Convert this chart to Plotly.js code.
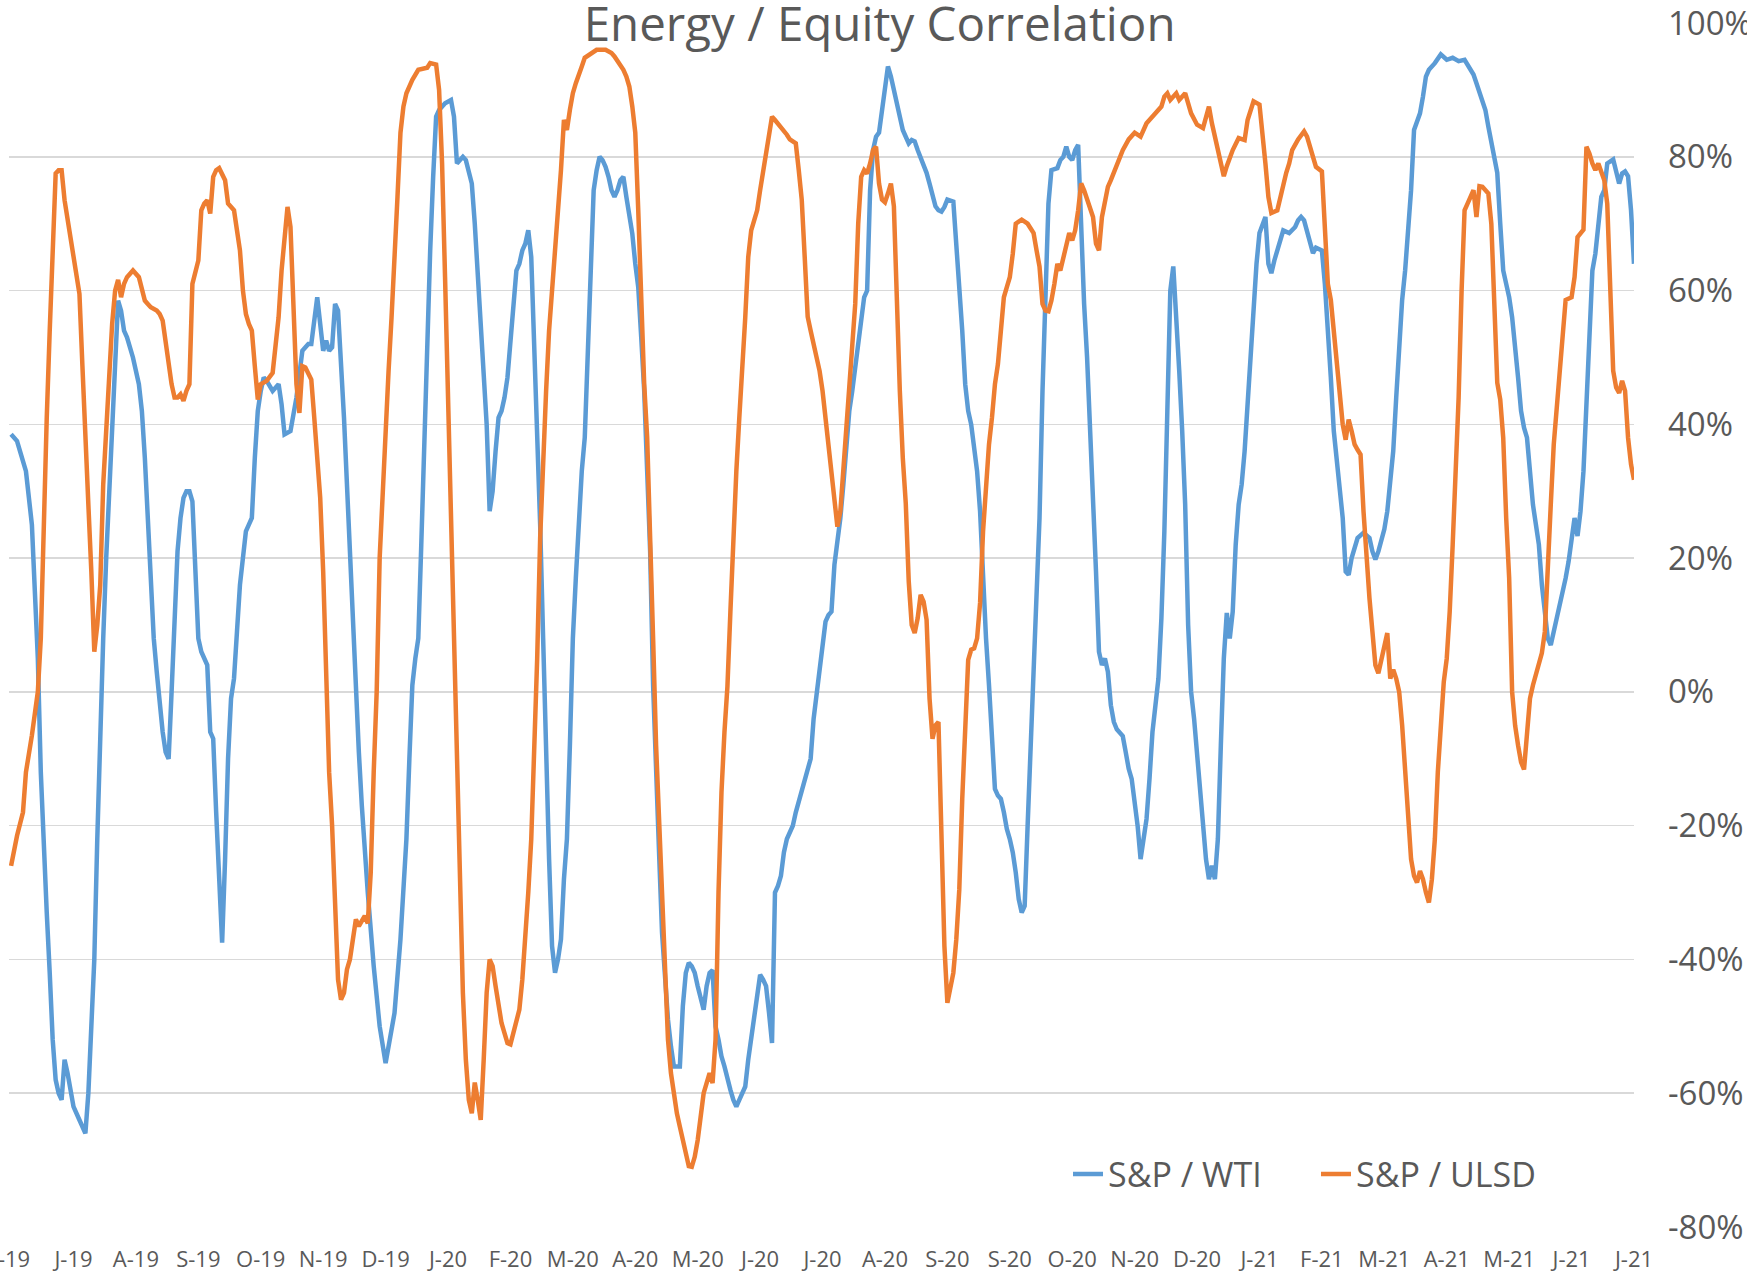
<!DOCTYPE html>
<html><head><meta charset="utf-8">
<script src="https://cdn.plot.ly/plotly-3.0.1.min.js"></script>
<style>html,body{margin:0;padding:0;background:#fff;} #chart{width:1747px;height:1281px;}</style>
</head><body><div id="chart"></div>
<script>
const xTickLabels = ["J-19","J-19","A-19","S-19","O-19","N-19","D-19","J-20","F-20","M-20","A-20","M-20","J-20","J-20","A-20","S-20","S-20","O-20","N-20","D-20","J-21","F-21","M-21","A-21","M-21","J-21","J-21"];
const daysPerLabel = 21;
const yTickValues = [-80,-60,-40,-20,0,20,40,60,80,100];

// [trading-day index, correlation %]
const wtiPoints = [[0,38.5],[2,37.5],[5,33],[7,25],[8,15],[9,5],[10,-12],[11,-24],[12,-33],[13,-42],[14,-52],[15,-58],[16,-60],[17,-61],[18,-55],[19,-57],[20,-60],[21,-62],[23,-64],[25,-66],[26,-60],[27,-50],[28,-40],[29,-22],[30,-5],[31,8],[32,20],[33,30],[34,40],[35,50],[36,58.5],[37,57],[38,54],[39,53],[41,50],[43,46],[44,42],[45,35],[46,26],[47,16],[48,8],[49,3],[50,-2],[51,-6],[52,-9],[53,-10],[54,0],[55,12],[56,21],[57,26],[58,29],[59,30],[60,30],[61,28.5],[62,17],[63,8],[64,6],[65,5],[66,4],[67,-6],[68,-7],[69,-18],[70,-30],[71,-37.5],[72,-25],[73,-10],[74,-1],[75,2],[76,9],[77,16],[78,20],[79,24],[80,25],[81,26],[82,35],[83,42],[84,45],[85,47],[86,46.5],[88,45],[90,46],[91,43],[92,38.5],[94,39],[96,44],[98,51],[100,52],[101,52],[103,59],[104,55],[105,51],[106,52.5],[107,51],[108,51.5],[109,58],[110,57],[111,50],[112,41],[113,31],[114,20],[115,9],[116,0],[117,-9],[118,-17],[119,-24],[120,-30],[122,-41],[124,-50],[126,-55.5],[127,-53],[129,-48],[131,-37],[132,-30],[133,-22],[134,-10],[135,1],[136,5],[137,8],[138,22],[139,38],[140,53],[141,66],[142,77],[143,86],[144,87],[146,88],[148,88.5],[149,86],[150,79],[151,79.5],[152,80],[153,79.5],[155,76],[156,70],[157,62],[158,54],[159,47],[160,40],[161,27],[162,30],[163,36],[164,41],[165,42],[166,44],[167,47],[168,53],[169,58],[170,63],[171,64],[172,66],[173,67],[174,69],[175,65],[176,52],[177,38],[178,25],[179,8],[180,-10],[181,-25],[182,-38],[183,-42],[184,-40],[185,-37],[186,-28],[187,-22],[188,-8],[189,8],[190,17],[191,26],[192,33],[193,38],[194,52],[195,65],[196,75],[197,78],[198,80],[199,79.5],[200,78.5],[201,77],[202,75],[203,74],[204,75],[205,76.5],[206,77],[207,74],[208,71],[209,68.5],[210,64],[211,60.5],[212,53],[213,45],[214,33],[215,21],[216,1],[217,-14],[218,-24],[219,-36],[220,-44],[221,-49],[222,-53],[223,-56],[225,-56],[226,-47],[227,-42],[228,-40.5],[229,-41],[230,-42],[231,-44],[232,-46],[233,-47.5],[234,-44],[235,-42],[236,-41.6],[237,-50],[238,-52],[239,-54.5],[240,-56],[241,-58],[242,-59.5],[243,-61],[244,-62],[245,-61],[246,-60],[247,-59],[248,-55],[249,-52],[250,-48],[251,-45],[252,-42.3],[253,-43],[254,-44],[255,-48],[256,-52.5],[257,-30],[258,-29],[259,-27.5],[260,-24],[261,-22],[262,-21],[263,-20],[264,-18],[265,-16.5],[266,-15],[267,-13.5],[268,-12],[269,-10],[270,-4],[271,0],[272,3.5],[273,7],[274,10.5],[275,11.5],[276,12],[277,19],[278,22],[279,26],[280,31],[281,37],[282,42],[283,45],[284,48.5],[285,52],[286,56],[287,59],[288,60],[289,75],[290,81],[291,83],[292,83.6],[293,87],[294,90],[295,93.5],[296,92],[297,90],[298,88],[299,86],[300,84],[301,83],[302,82],[303,82.5],[304,82.3],[305,81],[306,80],[307,79],[308,77.6],[309,76],[310,74],[311,72.6],[312,72],[313,71.8],[314,72.5],[315,73.6],[317,73.3],[318,67],[319,61],[320,54],[321,46],[322,42],[323,40],[324,37],[325,33],[326,27],[327,17],[328,8],[329,1],[330,-8],[331,-14.5],[332,-15.5],[333,-16],[334,-18],[335,-20.5],[336,-22],[337,-24],[338,-27],[339,-31],[340,-33],[341,-32],[342,-20],[343,-9],[344,1],[345,14],[346,26],[347,45],[348,62],[349,73],[350,78],[352,78.3],[353,79.5],[354,80],[355,81.5],[356,80],[357,79.5],[358,81],[359,81.8],[360,69],[361,58],[362,50],[363,40],[364,28],[365,18],[366,6],[367,4],[368,5],[369,3],[370,-2],[371,-4.5],[372,-5.6],[374,-6.6],[375,-9],[376,-11.5],[377,-13],[378,-16.5],[379,-20],[380,-25],[381,-22],[382,-19],[383,-13],[384,-6],[385,-2],[386,2],[387,11],[388,24],[389,42],[390,60],[391,63.6],[392,57],[393,48],[394,39],[395,28],[396,10],[397,0],[398,-4],[399,-9],[400,-14],[401,-19],[402,-25],[403,-28],[404,-26],[405,-28],[406,-22],[407,-8],[408,5],[409,11.8],[410,8],[411,12],[412,22],[413,28],[414,31],[415,36],[416,43],[417,51],[418,58.7],[419,64],[420,68.6],[421,70],[422,71],[423,64],[424,62.6],[425,64.5],[426,66],[427,67.5],[428,69],[430,68.6],[431,69],[432,69.5],[433,70.5],[434,71],[435,70.5],[436,69],[437,67],[438,65.6],[439,66.4],[441,66],[442,61],[443,55],[444,47],[445,39],[446,35],[447,31],[448,26],[449,18],[450,17.5],[451,20],[452,21.5],[453,23],[455,23.8],[457,23],[458,21],[459,19.8],[460,21],[461,22.5],[462,24.3],[463,27],[464,30.8],[465,36],[466,44],[467,52],[468,58.6],[469,63],[470,68.6],[471,75],[472,84],[473,85.5],[474,86.5],[475,89],[476,92],[477,93],[478,93.5],[479,94],[481,95.3],[483,94.5],[485,94.8],[487,94.3],[489,94.5],[491,93],[492,92.3],[493,91],[494,89.5],[495,88.5],[496,87],[497,84.5],[498,82],[499,80],[500,77.6],[501,70],[502,63],[503,61],[504,59],[505,56],[506,52],[507,47],[508,42],[509,39.5],[510,38],[511,32],[512,28],[513,25],[514,22],[515,16],[516,11.5],[517,8],[518,7],[519,9],[520,10.8],[521,12.5],[522,14.8],[523,17],[524,19.5],[525,23],[526,26],[527,23.3],[528,27],[529,33],[530,42],[531,53],[532,63],[533,65.5],[534,70],[535,74],[536,75],[537,79],[539,79.6],[540,78],[541,76],[542,77.5],[543,77.8],[544,77.1],[545,72],[546,64]];

const ulsdPoints = [[0,-26],[2,-21.5],[4,-18],[5,-12],[7,-6.5],[9,0],[10,8],[11,26],[12,41],[13,54],[14,64],[15,77.5],[16,78],[17,78],[18,73.5],[19,70.5],[20,67.5],[21,65],[22,62],[23,59.5],[24,48.7],[25,36],[26,28],[27,18],[28,6],[29,10],[30,16],[31,31],[32,40],[33,48.7],[34,55],[35,60],[36,61.6],[37,59],[38,61],[39,62],[41,63],[43,62],[44,60],[45,58.5],[46,58],[47,57.5],[49,57],[50,56.5],[51,55.5],[52,52],[53,49],[54,46],[55,44],[56,44],[57,44.5],[58,43.5],[59,45],[60,46],[61,61],[62,63],[63,64.5],[64,72],[65,73],[66,73.5],[67,71.5],[68,77],[69,78],[70,78.3],[71,77.5],[72,76.5],[73,73],[74,72.5],[75,72],[76,69],[77,66],[78,60],[79,56.5],[80,55],[81,54],[82,48.7],[83,43.7],[84,46],[86,46.5],[88,47.7],[89,52],[90,56],[91,63],[92,68.6],[93,72.5],[94,69.5],[95,58.6],[96,46],[97,41.7],[98,48.7],[99,48.5],[100,47.5],[101,46.7],[102,41],[103,35],[104,29],[105,18],[106,3],[107,-12],[108,-20],[109,-30],[110,-43],[111,-46],[112,-45],[113,-41.5],[114,-40],[115,-37],[116,-34],[117,-35],[118,-34.3],[119,-33.5],[120,-34.6],[121,-27],[122,-12],[123,0],[124,20],[125,30],[126,40],[127,48],[128,56],[129,63.6],[130,74],[131,83.6],[132,87.5],[133,89.5],[135,91.5],[137,93],[140,93.3],[141,94],[143,93.8],[144,90],[145,79],[146,62],[147,44],[148,27],[149,8],[150,-12],[151,-32],[152,-45],[153,-55],[154,-61],[155,-63],[156,-58.4],[157,-61],[158,-64],[159,-55],[160,-45],[161,-40],[162,-41],[163,-44],[164,-47],[165,-49.5],[166,-51],[167,-52.5],[168,-52.7],[169,-51],[170,-49.5],[171,-47.5],[172,-43],[173,-37],[174,-30],[175,-22],[176,-10],[177,5],[178,23],[179,36],[180,45],[181,54],[182,60],[183,66],[184,71],[185,78],[186,85.5],[187,84],[188,87],[189,89.5],[190,91],[191,92.5],[192,93.5],[193,94.8],[195,95.5],[197,96],[200,96],[202,95.5],[203,95],[205,93.8],[206,93],[207,92],[208,90.5],[209,87.5],[210,83.6],[211,72],[212,57],[213,46],[214,38],[215,25],[216,8],[217,-8],[218,-20],[219,-31],[220,-44.5],[221,-52],[222,-57],[223,-60.5],[224,-63],[225,-65],[226,-67],[227,-69],[228,-70.9],[229,-71],[230,-69.5],[231,-67],[232,-63.5],[233,-60],[234,-58.5],[235,-57],[236,-58.5],[237,-52],[238,-30],[239,-15],[240,-6],[241,0.8],[242,12],[243,23.3],[244,33],[245,41],[246,48],[247,56],[248,65],[249,69],[250,70.5],[251,72],[252,75],[253,78],[254,81],[255,84],[256,86],[257,85.5],[258,85],[259,84.5],[260,84],[261,83.3],[262,82.6],[263,82.3],[264,82],[265,78],[266,73.6],[267,65],[268,56.1],[269,54],[270,52],[271,50],[272,48],[273,45],[274,41],[275,37],[276,32],[277,28],[278,24.7],[279,27],[280,33],[281,38],[282,45],[283,51],[284,58],[285,70],[286,77],[287,78],[288,77.5],[289,79],[290,81],[291,81.5],[292,76],[293,73.6],[294,73.2],[295,74.5],[296,76],[297,72.6],[298,58],[299,45],[300,35],[301,28.2],[302,16.5],[303,10],[304,8.8],[305,11],[306,14.5],[307,13.5],[308,10.8],[309,-1],[310,-7],[311,-5],[312,-4.5],[313,-22],[314,-38],[315,-46.5],[316,-44],[317,-42],[318,-37],[319,-29.6],[320,-16],[321,-7],[322,4.8],[323,6.3],[324,6.5],[325,8],[326,13.3],[327,24],[328,31],[329,37],[330,41],[331,46],[332,49],[333,54],[334,59],[335,60.5],[336,62],[337,65.5],[338,70],[339,70.3],[340,70.6],[342,70],[344,68.6],[345,66],[346,63.6],[347,58],[348,57],[349,56.9],[350,58.5],[351,61],[352,64],[353,63],[354,65],[355,66.5],[356,68.6],[357,67.5],[358,69],[359,72],[360,76],[361,75],[362,73.6],[363,72],[364,71],[365,67],[366,66],[367,71],[368,73],[369,75.5],[370,76.5],[372,78.6],[374,81],[376,82.6],[378,83.6],[380,83],[382,85],[385,86.5],[387,87.5],[388,89],[389,89.5],[390,88.5],[392,89.5],[393,88.5],[395,89.5],[397,86.5],[399,84.8],[401,84.3],[402,86],[403,87.5],[404,85],[405,83],[406,81],[407,79],[408,77.1],[409,78.6],[410,80],[411,81],[413,82.8],[415,82.5],[416,85.5],[418,88.3],[420,87.8],[421,84],[422,79],[423,74],[424,71.6],[426,72],[427,74],[428,76],[429,77.6],[430,79],[431,81],[433,82.6],[435,83.8],[436,83],[437,81.5],[438,79.6],[439,78.5],[441,77.8],[442,70],[443,61],[444,58.6],[445,54],[446,50],[447,45],[448,40],[449,37.7],[450,40.7],[451,39],[452,37],[453,36.2],[454,35.5],[455,27],[456,20],[457,14],[458,9],[459,4],[460,2.8],[461,5],[462,7],[463,8.8],[464,2],[465,3.3],[466,2],[467,0],[468,-5],[469,-11.5],[470,-19],[471,-25],[472,-27.5],[473,-28.5],[474,-26.8],[475,-28],[476,-30],[477,-31.5],[478,-28],[479,-22],[480,-12],[481,-4],[482,1.5],[483,5],[484,12],[485,22],[486,32],[487,44],[488,60],[489,72],[490,73],[491,74],[492,75],[493,71],[494,75.6],[495,75.5],[496,75.1],[497,74.5],[498,70],[499,58],[500,46.2],[501,43.7],[502,38],[503,26],[504,17],[505,0],[506,-5],[507,-8],[508,-10.5],[509,-11.6],[510,-7],[511,-1],[512,1],[513,2.5],[514,4],[515,5.8],[516,9],[517,17],[518,28],[519,37],[520,42],[521,47],[522,53],[523,58.6],[525,59],[526,62],[527,68],[529,69.1],[530,81.5],[531,80.5],[532,79],[533,78],[534,79],[535,77.6],[536,76.5],[537,73],[538,62],[539,48],[540,45.5],[541,44.7],[542,46.5],[543,45],[544,38],[545,34],[546,31.7]];

const textColor = '#595959';
const traces = [
  {type:'scatter', mode:'lines', name:'S&P / WTI', legend:'legend',
   x: wtiPoints.map(p => p[0]), y: wtiPoints.map(p => p[1]),
   line:{color:'#5B9BD5', width:4.5}},
  {type:'scatter', mode:'lines', name:'S&P / ULSD', legend:'legend2',
   x: ulsdPoints.map(p => p[0]), y: ulsdPoints.map(p => p[1]),
   line:{color:'#ED7D31', width:4.5}}
];

const legendStyle = {orientation:'h', xanchor:'left', y:0.0436, yanchor:'middle',
                     font:{size:34, color:textColor, family:'Open Sans, sans-serif'},
                     bgcolor:'rgba(0,0,0,0)', borderwidth:0};

const layout = {
  width:1747, height:1281,
  margin:{l:9, r:113, t:23, b:54, pad:0},
  paper_bgcolor:'#ffffff', plot_bgcolor:'#ffffff',
  font:{family:'Open Sans, sans-serif', color:textColor},
  title:{text:'Energy / Equity Correlation', font:{size:47.5, color:textColor, family:'Open Sans, sans-serif'},
         xref:'container', x:0.5035, xanchor:'center', yref:'container', y:1-24/1281, yanchor:'middle'},
  xaxis:{range:[-0.7,546], tickmode:'array',
         tickvals: xTickLabels.map((_, i) => i * daysPerLabel), ticktext: xTickLabels,
         showgrid:false, zeroline:false, showline:false,
         ticks:'outside', ticklen:13, tickcolor:'rgba(0,0,0,0)',
         tickfont:{size:22, color:textColor}, ticklabeloverflow:'allow', automargin:false, fixedrange:true},
  yaxis:{side:'right', range:[-80,100], tickmode:'array', tickvals:yTickValues,
         ticktext: yTickValues.map(v => v + '%'),
         showgrid:true, gridcolor:'#D9D9D9', gridwidth:1.5, zeroline:false, showline:false,
         ticks:'', ticklabelstandoff:33, tickfont:{size:33, color:textColor},
         ticklabeloverflow:'allow', automargin:false, fixedrange:true},
  showlegend:true,
  legend:Object.assign({}, legendStyle, {x:0.6517}),
  legend2:Object.assign({}, legendStyle, {x:0.8043})
};

Plotly.newPlot('chart', traces, layout, {displayModeBar:false, staticPlot:true});
</script>
</body></html>
